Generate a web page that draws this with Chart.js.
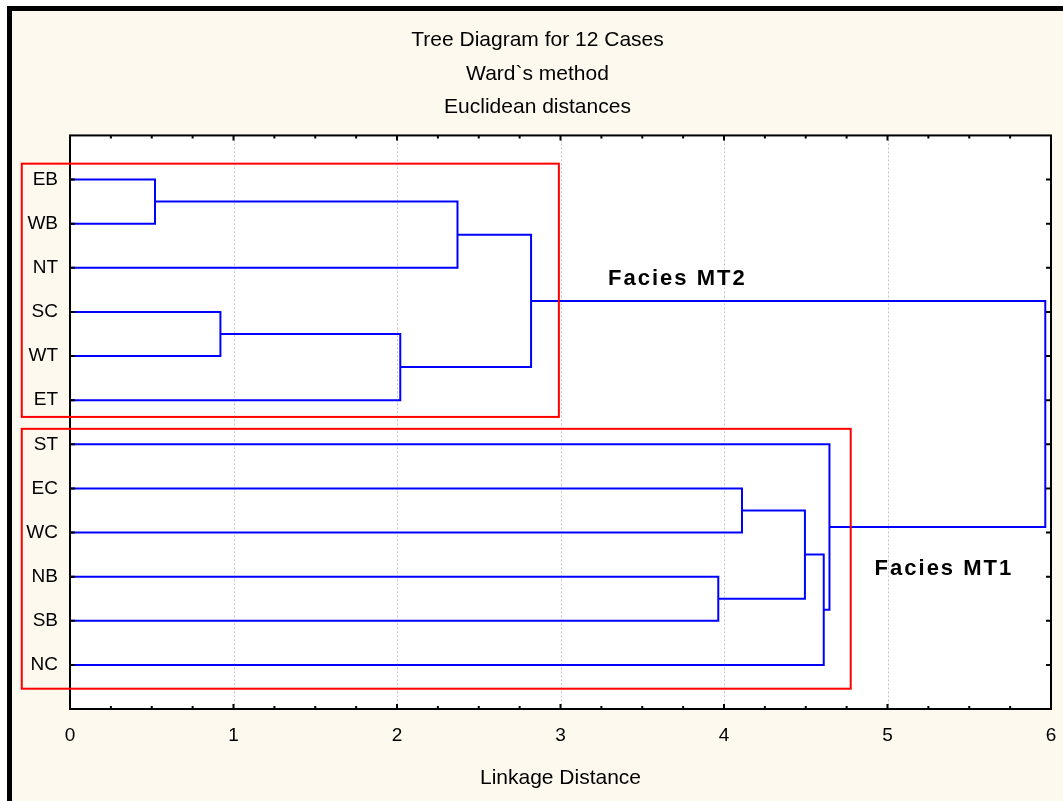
<!DOCTYPE html>
<html>
<head>
<meta charset="utf-8">
<title>Tree Diagram for 12 Cases</title>
<script src="https://cdn.jsdelivr.net/npm/chart.js@4/dist/chart.umd.min.js"></script>
<style>
  html, body { margin: 0; padding: 0; background: #fff; }
  #frame {
    position: absolute; left: 7px; top: 6px; right: 0; bottom: 0;
    border-left: 5px solid #000; border-top: 5px solid #000;
    background: #fdf9ee;
  }
  #tree { position: absolute; left: 0; top: 0; }
</style>
</head>
<body>
<div id="frame"></div>
<canvas id="tree" width="1063" height="801"></canvas>
<script>
// cases, top to bottom
const leaves = ['EB', 'WB', 'NT', 'SC', 'WT', 'ET', 'ST', 'EC', 'WC', 'NB', 'SB', 'NC'];

// linkage steps: index < 12 is a case, >= 12 is an earlier step (12 + step no.)
const mergeLeft   = [0, 3, 13, 12, 15,  9,  7, 18, 19,  6, 16];
const mergeRight  = [1, 4,  5,  2, 14, 10,  8, 17, 11, 20, 21];
const mergeHeight = [0.52, 0.92, 2.02, 2.37, 2.82, 3.965, 4.11, 4.495, 4.61, 4.645, 5.965];

const distanceTicks = [0, 1, 2, 3, 4, 5, 6];
const titleLines = ['Tree Diagram for 12 Cases', 'Ward`s method', 'Euclidean distances'];
const groupNames = ['Facies MT2', 'Facies MT1'];

const FONT = 'Arial, "Liberation Sans", sans-serif';
Chart.defaults.font.family = FONT;
Chart.defaults.color = '#000';

// build the U-shaped links from the linkage table
const nodes = leaves.map((name, i) => ({ x: 0, y: i + 1 }));
const links = [];
mergeHeight.forEach((h, k) => {
    const a = nodes[mergeLeft[k]];
    const b = nodes[mergeRight[k]];
    links.push({
        data: [
            { x: a.x, y: a.y },
            { x: h, y: a.y },
            { x: h, y: b.y },
            { x: b.x, y: b.y }
        ],
        showLine: true,
        borderColor: '#0000ff',
        borderWidth: 2,
        pointRadius: 0,
        fill: false
    });
    nodes.push({ x: h, y: (a.y + b.y) / 2 });
});

// white plot area, dotted grid, frame with inward ticks, group boxes and labels
const treeDecor = {
    id: 'treeDecor',
    beforeDatasetsDraw(chart) {
        const { ctx, chartArea: ca, scales: { x } } = chart;
        ctx.save();
        ctx.fillStyle = '#fff';
        ctx.fillRect(ca.left, ca.top, ca.right - ca.left, ca.bottom - ca.top);
        ctx.strokeStyle = '#c4c4c4';
        ctx.lineWidth = 1;
        ctx.setLineDash([2, 2]);
        distanceTicks.slice(1, -1).forEach(v => {
            const px = Math.round(x.getPixelForValue(v)) + 0.5;
            ctx.beginPath();
            ctx.moveTo(px, ca.top);
            ctx.lineTo(px, ca.bottom);
            ctx.stroke();
        });
        ctx.restore();
    },
    afterDatasetsDraw(chart, args, opts) {
        const { ctx, chartArea: ca, scales: { x, y } } = chart;
        ctx.save();
        ctx.strokeStyle = '#000';
        ctx.lineWidth = 2;
        ctx.strokeRect(ca.left, ca.top, ca.right - ca.left, ca.bottom - ca.top);
        ctx.beginPath();
        x.ticks.forEach(t => {
            const px = x.getPixelForValue(t.value);
            const len = Number.isInteger(t.value) ? 5 : 3;
            ctx.moveTo(px, ca.bottom); ctx.lineTo(px, ca.bottom - len);
            ctx.moveTo(px, ca.top); ctx.lineTo(px, ca.top + len);
        });
        y.ticks.forEach(t => {
            const py = y.getPixelForValue(t.value);
            ctx.moveTo(ca.left, py); ctx.lineTo(ca.left + 5, py);
            ctx.moveTo(ca.right, py); ctx.lineTo(ca.right - 5, py);
        });
        ctx.stroke();

        ctx.strokeStyle = '#ff0000';
        ctx.lineWidth = 2;
        opts.boxes.forEach(b => {
            const x0 = x.getPixelForValue(b.x0), x1 = x.getPixelForValue(b.x1);
            const y0 = y.getPixelForValue(b.y0), y1 = y.getPixelForValue(b.y1);
            ctx.strokeRect(x0, y0, x1 - x0, y1 - y0);
        });

        ctx.fillStyle = '#000';
        ctx.font = 'bold 22px ' + FONT;
        ctx.letterSpacing = '2px';
        ctx.textAlign = 'center';
        ctx.textBaseline = 'middle';
        opts.labels.forEach((l, i) => {
            ctx.fillText(groupNames[i], x.getPixelForValue(l.x), y.getPixelForValue(l.y));
        });
        ctx.restore();
    }
};

new Chart(document.getElementById('tree'), {
    type: 'scatter',
    data: { datasets: links },
    plugins: [treeDecor],
    options: {
        responsive: false,
        animation: false,
        layout: { padding: { left: 12, right: 0, top: 0, bottom: 0 } },
        plugins: {
            legend: { display: false },
            tooltip: { enabled: false },
            title: {
                display: true,
                text: titleLines,
                color: '#000',
                font: { size: 21, weight: 'normal', lineHeight: 1.61 },
                padding: { top: 23, bottom: 11 }
            },
            treeDecor: {
                boxes: [
                    { x0: -0.295, x1: 2.99, y0: 0.64, y1: 6.38 },
                    { x0: -0.295, x1: 4.775, y0: 6.65, y1: 12.54 }
                ],
                labels: [
                    { x: 3.715, y: 3.25 },
                    { x: 5.345, y: 9.83 }
                ]
            }
        },
        scales: {
            x: {
                type: 'linear',
                min: 0,
                max: 6,
                afterBuildTicks: s => {
                    const ticks = [];
                    for (let v = 0; v <= 6; v += 0.25) ticks.push({ value: v });
                    s.ticks = ticks;
                },
                afterFit: s => { s.height = 92; },
                // invisible tick marks keep the labels clear of the axis
                grid: { display: true, drawOnChartArea: false, drawTicks: true, tickLength: 12, color: 'rgba(0,0,0,0)' },
                border: { display: false },
                ticks: {
                    autoSkip: false,
                    maxRotation: 0,
                    padding: 3,
                    font: { size: 19 },
                    callback: v => distanceTicks.includes(v) ? String(v) : ''
                },
                title: {
                    display: true,
                    text: 'Linkage Distance',
                    font: { size: 21 },
                    padding: { top: 0, bottom: 10 }
                }
            },
            y: {
                type: 'linear',
                reverse: true,
                min: 0,
                max: leaves.length + 1,
                afterBuildTicks: s => {
                    s.ticks = leaves.map((name, i) => ({ value: i + 1 }));
                },
                afterFit: s => { s.width = 58; },
                grid: { display: false, drawTicks: false },
                border: { display: false },
                ticks: {
                    autoSkip: false,
                    padding: 12,
                    font: { size: 19 },
                    callback: v => leaves[v - 1] || ''
                }
            },
            yRight: {
                type: 'linear',
                position: 'right',
                afterFit: s => { s.width = 12; },
                grid: { display: false, drawTicks: false },
                border: { display: false },
                ticks: { display: false }
            }
        }
    }
});
</script>
</body>
</html>
